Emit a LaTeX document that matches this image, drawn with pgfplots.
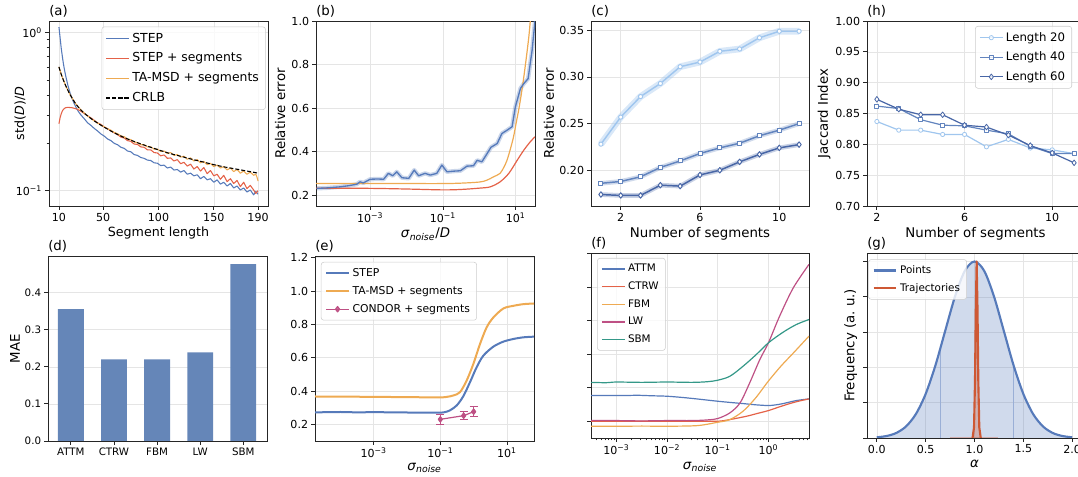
\documentclass[border=0pt]{standalone}
\usepackage{fontspec}
\setmainfont{DejaVu Sans}
\usepackage{pgfplots}
\pgfplotsset{compat=1.18}
\definecolor{cblue}{RGB}{86,122,186}
\definecolor{cred}{RGB}{228,98,72}
\definecolor{cred2}{RGB}{206,88,52}
\definecolor{corange}{RGB}{238,170,82}
\definecolor{cmag}{RGB}{190,80,132}
\definecolor{cteal}{RGB}{52,152,136}
\definecolor{cbar}{RGB}{101,134,184}
\definecolor{clight}{RGB}{160,198,238}
\definecolor{cmid}{RGB}{98,132,190}
\definecolor{cdark}{RGB}{72,102,166}
\newcommand{\tp}[1]{10\textsuperscript{#1}}
\newcommand{\sn}{\textit{σ}\textsubscript{\textit{noise}}}
\pgfplotsset{
  mpl/.style={
    scale only axis,
    anchor=south west,
    /pgf/number format/assume math mode=true,
    axis line style={black!85, line width=0.6pt},
    tick style={black!85, line width=0.6pt},
    major tick length=3pt, minor tick length=1.8pt,
    tick align=outside, tick pos=left,
    grid=major,
    major grid style={black!10, line width=0.4pt},
    tick label style={font=\fontsize{8.3}{10}\selectfont, inner sep=2pt},
    label style={font=\fontsize{10}{12}\selectfont},
    legend cell align=left,
    legend style={draw=black!20, rounded corners=2pt, fill=white, fill opacity=0.8, text opacity=1, inner xsep=3pt, inner ysep=2.5pt, row sep=2pt},
    every axis plot/.append style={line join=round},
  },
}
\begin{document}
\begin{tikzpicture}
\useasboundingbox (0,0) rectangle (808.5pt,357.75pt);
%---------------- (a)
\begin{axis}[mpl, name=pa, at={(36.75pt,203.25pt)}, width=164.25pt, height=138.75pt,
  xmin=1, xmax=199, ymode=log, ymin=0.08, ymax=1.18,
  xtick={10,50,100,150,190}, ytick={0.1,1}, yticklabels={\tp{−1},\tp{0}},
  xlabel={Segment length}, ylabel={std(\textit{D})/\textit{D}},
  label style={font=\fontsize{9.5}{11}\selectfont},
  ylabel style={at={(axis description cs:-0.132,0.5)}, anchor=center},
  xlabel style={at={(axis description cs:0.5,-0.148)}, anchor=center},
  legend style={at={(0.99,0.97)}, anchor=north east, font=\fontsize{9.3}{11}\selectfont, row sep=2.5pt},
]
\addplot[cblue, line width=0.8pt] coordinates {
(10,1.08)(11,0.93)(12,0.80)(13,0.71)(14,0.635)(15,0.58)(16,0.535)(18,0.465)(20,0.415)(22,0.38)(24,0.352)(26,0.33)(28,0.313)(30,0.3)
(33,0.284)(36,0.268)(39,0.258)(42,0.247)(45,0.238)(48,0.228)(51,0.221)(54,0.212)(57,0.207)(60,0.199)(63,0.195)(66,0.188)(69,0.185)
(72,0.178)(75,0.176)(78,0.169)(81,0.167)(84,0.162)(87,0.160)(90,0.156)(93,0.155)(96,0.150)(99,0.149)(102,0.144)(105,0.145)(108,0.139)
(111,0.141)(114,0.135)(117,0.136)(120,0.131)(123,0.134)(126,0.127)(129,0.129)(132,0.124)(135,0.126)(138,0.119)(141,0.123)(144,0.117)
(147,0.119)(150,0.113)(153,0.117)(156,0.110)(159,0.113)(162,0.107)(165,0.111)(168,0.104)(171,0.107)(174,0.101)(177,0.104)(180,0.098)
(183,0.101)(186,0.094)(188,0.099)(190,0.095)};
\addlegendentry{STEP}
\addplot[cred, line width=0.8pt] coordinates {
(10,0.265)(11,0.288)(12,0.305)(13,0.318)(14,0.326)(15,0.331)(16,0.334)(18,0.336)(20,0.335)(22,0.334)(24,0.331)(26,0.328)(28,0.323)(30,0.317)
(33,0.307)(36,0.297)(39,0.288)(42,0.278)(45,0.268)(48,0.262)(51,0.252)(54,0.246)(57,0.238)(60,0.232)(63,0.226)(66,0.218)(69,0.215)
(72,0.207)(75,0.205)(78,0.197)(81,0.196)(84,0.189)(87,0.188)(90,0.181)(93,0.181)(96,0.174)(99,0.173)(102,0.166)(105,0.168)(108,0.160)
(111,0.161)(114,0.154)(117,0.157)(120,0.148)(123,0.151)(126,0.143)(129,0.147)(132,0.137)(135,0.142)(138,0.133)(141,0.140)(144,0.128)
(147,0.134)(150,0.124)(153,0.127)(156,0.118)(159,0.125)(162,0.114)(165,0.119)(168,0.111)(171,0.116)(174,0.106)(177,0.113)(180,0.103)
(183,0.108)(186,0.101)(188,0.096)(190,0.100)};
\addlegendentry{STEP + segments}
\addplot[corange, line width=0.8pt] coordinates {
(10,0.605)(12,0.545)(14,0.50)(16,0.462)(18,0.432)(20,0.405)(25,0.355)(30,0.323)(35,0.300)(40,0.282)(45,0.267)(50,0.255)(54,0.246)
(57,0.241)(60,0.233)(63,0.229)(66,0.222)(69,0.219)(72,0.212)(75,0.210)(78,0.203)(81,0.201)(84,0.195)(87,0.195)(90,0.189)(93,0.189)
(96,0.183)(99,0.183)(102,0.177)(105,0.178)(108,0.172)(111,0.174)(114,0.167)(117,0.169)(120,0.163)(123,0.165)(126,0.158)(129,0.161)
(132,0.154)(135,0.157)(138,0.150)(141,0.153)(144,0.146)(147,0.149)(150,0.142)(153,0.145)(156,0.139)(159,0.142)(162,0.135)(165,0.139)
(168,0.132)(171,0.136)(174,0.129)(177,0.133)(180,0.127)(183,0.131)(186,0.125)(188,0.127)(189,0.122)(190,0.115)};
\addlegendentry{TA-MSD + segments}
\addplot[black, line width=0.8pt, dash pattern=on 3pt off 1.5pt, smooth] coordinates {
(10,0.605)(12,0.545)(14,0.50)(16,0.462)(18,0.432)(20,0.405)(25,0.355)(30,0.322)(35,0.30)(40,0.282)(45,0.267)(50,0.254)(60,0.232)
(70,0.215)(80,0.202)(90,0.191)(100,0.181)(110,0.172)(120,0.165)(130,0.158)(140,0.152)(150,0.146)(160,0.141)(170,0.137)(180,0.133)(190,0.129)};
\addlegendentry{CRLB}
\end{axis}
\node[anchor=base west, inner sep=0pt, font=\fontsize{10}{12}\selectfont] at ([yshift=4pt]pa.north west) {(a)};
%---------------- (b)
\begin{axis}[mpl, name=pb, at={(237pt,203.25pt)}, width=164.25pt, height=138.75pt,
  xmin=-4.49, xmax=1.53, ymin=0.15, ymax=1.0,
  xtick={-3,-1,1}, xticklabels={\tp{−3},\tp{−1},\tp{1}},
  ytick={0.2,0.4,0.6,0.8,1.0},
  yticklabel style={/pgf/number format/.cd,fixed,fixed zerofill,precision=1},
  xlabel={\sn/\textit{D}}, ylabel={Relative error},
  ylabel style={at={(axis description cs:-0.164,0.5)}, anchor=center},
  xlabel style={at={(axis description cs:0.5,-0.152)}, anchor=center},
]
\addplot[cblue, line width=3.2pt, opacity=0.3] coordinates {
(-4.47,0.231)(-4.2,0.233)(-3.83,0.238)(-3.6,0.243)(-3.37,0.250)(-3.28,0.261)(-3.19,0.256)(-3.0,0.273)(-2.8,0.274)(-2.63,0.273)
(-2.5,0.30)(-2.38,0.289)(-2.27,0.307)(-2.13,0.28)(-1.94,0.277)(-1.79,0.315)(-1.67,0.289)(-1.49,0.30)(-1.35,0.292)(-1.17,0.30)
(-1.03,0.338)(-0.89,0.307)(-0.71,0.31)(-0.52,0.312)(-0.34,0.333)(-0.16,0.335)(-0.06,0.36)(0.07,0.353)(0.21,0.39)(0.32,0.42)
(0.49,0.437)(0.62,0.483)(0.76,0.498)(0.9,0.514)(0.99,0.605)(1.13,0.69)(1.22,0.712)(1.34,0.735)(1.45,0.865)(1.53,1.0)};
\addplot[corange, line width=0.9pt, smooth] coordinates {
(-4.49,0.253)(-3,0.253)(-2,0.253)(-1,0.253)(-0.5,0.255)(0,0.26)(0.2,0.268)(0.39,0.284)(0.57,0.30)(0.68,0.33)(0.76,0.36)(0.85,0.41)
(0.94,0.468)(1.01,0.53)(1.08,0.59)(1.15,0.66)(1.22,0.74)(1.29,0.83)(1.36,0.927)(1.40,1.0)(1.44,1.08)};
\addplot[cred, line width=0.9pt, smooth] coordinates {
(-4.49,0.232)(-3,0.231)(-2,0.228)(-1,0.224)(-0.5,0.226)(0,0.232)(0.3,0.238)(0.57,0.261)(0.81,0.30)(1.04,0.36)(1.22,0.406)(1.4,0.445)(1.53,0.468)};
\addplot[cblue, line width=1pt] coordinates {
(-4.47,0.231)(-4.2,0.233)(-3.83,0.238)(-3.6,0.243)(-3.37,0.250)(-3.28,0.261)(-3.19,0.256)(-3.0,0.273)(-2.8,0.274)(-2.63,0.273)
(-2.5,0.30)(-2.38,0.289)(-2.27,0.307)(-2.13,0.28)(-1.94,0.277)(-1.79,0.315)(-1.67,0.289)(-1.49,0.30)(-1.35,0.292)(-1.17,0.30)
(-1.03,0.338)(-0.89,0.307)(-0.71,0.31)(-0.52,0.312)(-0.34,0.333)(-0.16,0.335)(-0.06,0.36)(0.07,0.353)(0.21,0.39)(0.32,0.42)
(0.49,0.437)(0.62,0.483)(0.76,0.498)(0.9,0.514)(0.99,0.605)(1.13,0.69)(1.22,0.712)(1.34,0.735)(1.45,0.865)(1.53,1.0)};
\end{axis}
\node[anchor=base west, inner sep=0pt, font=\fontsize{10}{12}\selectfont] at ([yshift=4pt]pb.north west) {(b)};
%---------------- (c)
\begin{axis}[mpl, name=pc, at={(443.25pt,203.25pt)}, width=163.5pt, height=138.75pt,
  xmin=0.5, xmax=11.5, ymin=0.1617, ymax=0.36,
  xtick={2,6,10}, ytick={0.20,0.25,0.30,0.35},
  yticklabel style={/pgf/number format/.cd,fixed,fixed zerofill,precision=2},
  xlabel={Number of segments}, ylabel={Relative error},
  ylabel style={at={(axis description cs:-0.193,0.5)}, anchor=center},
  xlabel style={at={(axis description cs:0.5,-0.148)}, anchor=center},
]
\addplot[clight, line width=5pt, opacity=0.4] coordinates {
(1,0.228)(2,0.257)(3,0.279)(4,0.293)(5,0.311)(6,0.316)(7,0.3275)(8,0.330)(9,0.342)(10,0.349)(11,0.349)};
\addplot[cmid, line width=3.5pt, opacity=0.3] coordinates {
(1,0.186)(2,0.188)(3,0.193)(4,0.203)(5,0.210)(6,0.218)(7,0.224)(8,0.229)(9,0.237)(10,0.243)(11,0.250)};
\addplot[cdark, line width=3.5pt, opacity=0.3] coordinates {
(1,0.174)(2,0.173)(3,0.173)(4,0.184)(5,0.183)(6,0.195)(7,0.200)(8,0.209)(9,0.217)(10,0.224)(11,0.2275)};
\addplot[clight, line width=1.1pt, mark=*, mark size=1.6pt, mark options={fill=white, draw=clight, line width=0.7pt}] coordinates {
(1,0.228)(2,0.257)(3,0.279)(4,0.293)(5,0.311)(6,0.316)(7,0.3275)(8,0.330)(9,0.342)(10,0.349)(11,0.349)};
\addplot[cmid, line width=1.1pt, mark=square*, mark size=1.5pt, mark options={fill=white, draw=cmid, line width=0.7pt}] coordinates {
(1,0.186)(2,0.188)(3,0.193)(4,0.203)(5,0.210)(6,0.218)(7,0.224)(8,0.229)(9,0.237)(10,0.243)(11,0.250)};
\addplot[cdark, line width=1.1pt, mark=diamond*, mark size=2.1pt, mark options={fill=white, draw=cdark, line width=0.7pt}] coordinates {
(1,0.174)(2,0.173)(3,0.173)(4,0.184)(5,0.183)(6,0.195)(7,0.200)(8,0.209)(9,0.217)(10,0.224)(11,0.2275)};
\end{axis}
\node[anchor=base west, inner sep=0pt, font=\fontsize{10}{12}\selectfont] at ([yshift=4pt]pc.north west) {(c)};
%---------------- (h)
\begin{axis}[mpl, name=ph, at={(650.25pt,203.25pt)}, width=162.75pt, height=138.75pt,
  xmin=1.55, xmax=11.45, ymin=0.70, ymax=1.00,
  xtick={2,6,10}, ytick={0.70,0.75,0.80,0.85,0.90,0.95,1.00},
  yticklabel style={/pgf/number format/.cd,fixed,fixed zerofill,precision=2},
  xlabel={Number of segments}, ylabel={Jaccard Index},
  ylabel style={at={(axis description cs:-0.198,0.5)}, anchor=center},
  xlabel style={at={(axis description cs:0.5,-0.148)}, anchor=center},
  legend style={at={(0.498,0.973)}, anchor=north west, font=\fontsize{8.8}{10.5}\selectfont, row sep=2.5pt},
]
\addplot[clight, line width=0.9pt, mark=*, mark size=1.6pt, mark options={fill=white, draw=clight, line width=0.6pt}] coordinates {
(2,0.837)(3,0.823)(4,0.823)(5,0.816)(6,0.816)(7,0.796)(8,0.808)(9,0.794)(10,0.791)(11,0.785)};
\addlegendentry{Length 20}
\addplot[cmid, line width=0.9pt, mark=square*, mark size=1.5pt, mark options={fill=white, draw=cmid, line width=0.6pt}] coordinates {
(2,0.862)(3,0.858)(4,0.840)(5,0.831)(6,0.830)(7,0.823)(8,0.817)(9,0.797)(10,0.785)(11,0.785)};
\addlegendentry{Length 40}
\addplot[cdark, line width=0.9pt, mark=diamond*, mark size=2.1pt, mark options={fill=white, draw=cdark, line width=0.6pt}] coordinates {
(2,0.873)(3,0.857)(4,0.848)(5,0.848)(6,0.831)(7,0.828)(8,0.815)(9,0.798)(10,0.786)(11,0.770)};
\addlegendentry{Length 60}
\end{axis}
\node[anchor=base west, inner sep=0pt, font=\fontsize{10}{12}\selectfont] at ([yshift=4pt]ph.north west) {(h)};
%---------------- (d)
\begin{axis}[mpl, name=pd, at={(36pt,27pt)}, width=164.25pt, height=138.75pt,
  ybar, bar width=0.6, xmin=-0.53, xmax=4.55, ymin=0, ymax=0.4985,
  xtick={0,1,2,3,4}, xticklabels={ATTM,CTRW,FBM,LW,SBM},
  ytick={0,0.1,0.2,0.3,0.4},
  yticklabel style={/pgf/number format/.cd,fixed,fixed zerofill,precision=1},
  xmajorgrids=false, ymajorgrids=true, ylabel={MAE},
  ylabel style={at={(axis description cs:-0.151,0.5)}, anchor=center},
  tick label style={font=\fontsize{7.7}{9}\selectfont},
]
\addplot[fill=cbar, draw=none] coordinates {(0,0.355)(1,0.220)(2,0.220)(3,0.239)(4,0.4765)};
\end{axis}
\node[anchor=base west, inner sep=0pt, font=\fontsize{10}{12}\selectfont] at ([yshift=4pt]pd.north west) {(d)};
%---------------- (e)
\begin{axis}[mpl, name=pe, at={(236.25pt,27pt)}, width=164.25pt, height=138.75pt,
  xmin=-4.76, xmax=1.81, ymin=0.1, ymax=1.21,
  xtick={-3,-1,1}, xticklabels={\tp{−3},\tp{−1},\tp{1}},
  ytick={0.2,0.4,0.6,0.8,1.0,1.2},
  yticklabel style={/pgf/number format/.cd,fixed,fixed zerofill,precision=1},
  xlabel={\sn},
  xlabel style={at={(axis description cs:0.5,-0.145)}, anchor=center},
  legend style={at={(0.027,0.968)}, anchor=north west, font=\fontsize{8.1}{9.7}\selectfont},
]
\addplot[cblue, line width=1.5pt, smooth] coordinates {
(-4.76,0.272)(-4.3,0.273)(-4,0.274)(-3.5,0.272)(-3,0.273)(-2.5,0.272)(-2,0.271)(-1.5,0.270)(-1,0.27)(-0.85,0.274)(-0.71,0.284)
(-0.51,0.313)(-0.31,0.369)(-0.11,0.453)(0.09,0.543)(0.29,0.612)(0.59,0.666)(0.89,0.696)(1.19,0.712)(1.49,0.722)(1.81,0.726)};
\addlegendentry{STEP}
\addplot[corange, line width=1.5pt, smooth] coordinates {
(-4.76,0.367)(-4,0.366)(-3,0.365)(-2,0.363)(-1,0.362)(-0.8,0.365)(-0.61,0.373)(-0.41,0.393)(-0.21,0.463)(-0.01,0.562)(0.19,0.682)
(0.39,0.782)(0.59,0.841)(0.89,0.895)(1.19,0.911)(1.49,0.921)(1.81,0.925)};
\addlegendentry{TA-MSD + segments}
\addplot[cmag, line width=0.9pt, mark=diamond*, mark size=2pt,
  error bars/.cd, y dir=both, y explicit, error mark options={rotate=90, cmag, mark size=3pt, line width=0.8pt},
  error bar style={cmag, line width=0.8pt}]
  coordinates {(-1,0.23) +- (0,0.03) (-0.3,0.252) +- (0,0.025) (0,0.276) +- (0,0.03)};
\addlegendentry{CONDOR + segments}
\end{axis}
\node[anchor=base west, inner sep=0pt, font=\fontsize{10}{12}\selectfont] at ([yshift=4pt]pe.north west) {(e)};
%---------------- (f)
\begin{axis}[mpl, name=pf, at={(443.25pt,29.25pt)}, width=163.5pt, height=138.75pt,
  xmin=-3.5, xmax=0.8, ymin=-0.5, ymax=5.02,
  xtick={-3,-2,-1,0}, xticklabels={\tp{−3},\tp{−2},\tp{−1},\tp{0}},
  minor xtick={-3.398,-3.301,-3.222,-3.155,-3.097,-3.046,-2.699,-2.523,-2.398,-2.301,-2.222,-2.155,-2.097,-2.046,
    -1.699,-1.523,-1.398,-1.301,-1.222,-1.155,-1.097,-1.046,-0.699,-0.523,-0.398,-0.301,-0.222,-0.155,-0.097,-0.046,
    0.301,0.477,0.602,0.699,0.778},
  ytick={0,1,2,3,4,5}, yticklabels={},
  xlabel={\sn},
  xlabel style={at={(axis description cs:0.5,-0.155)}, anchor=center},
  legend style={at={(0.028,0.973)}, anchor=north west, font=\fontsize{7.8}{9.4}\selectfont},
]
\addplot[cblue, line width=0.9pt, smooth] coordinates {
(-3.5,0.766)(-3.2,0.77)(-3,0.77)(-2.8,0.766)(-2.6,0.775)(-2.3,0.76)(-2,0.746)(-1.7,0.71)(-1.42,0.667)(-1.2,0.63)(-1,0.597)
(-0.75,0.56)(-0.5,0.527)(-0.25,0.49)(0,0.468)(0.15,0.49)(0.29,0.527)(0.55,0.617)(0.8,0.667)};
\addlegendentry{ATTM}
\addplot[cred, line width=0.9pt, smooth] coordinates {
(-3.5,0.0)(-3,0.0)(-2,0.0)(-1.5,0.0)(-1,0.0)(-0.76,0.05)(-0.43,0.15)(-0.2,0.24)(0,0.318)(0.2,0.42)(0.42,0.527)(0.6,0.6)(0.8,0.667)};
\addlegendentry{CTRW}
\addplot[corange, line width=0.9pt, smooth] coordinates {
(-3.5,-0.149)(-3,-0.15)(-2.5,-0.145)(-2,-0.149)(-1.4,-0.13)(-1,-0.03)(-0.76,0.05)(-0.5,0.3)(-0.25,0.7)(0,1.2)(0.25,1.65)(0.5,2.05)(0.8,2.54)};
\addlegendentry{FBM}
\addplot[cmag, line width=0.9pt, smooth] coordinates {
(-3.5,0.02)(-3,0.02)(-2.5,0.01)(-2,0.02)(-1.5,0.02)(-1.2,0.04)(-1,0.08)(-0.76,0.25)(-0.56,0.547)(-0.37,1.144)(-0.17,1.84)(0,2.34)
(0.22,3.134)(0.49,3.98)(0.8,4.68)};
\addlegendentry{LW}
\addplot[cteal, line width=0.9pt, smooth] coordinates {
(-3.5,1.16)(-3.2,1.15)(-3,1.17)(-2.5,1.16)(-2,1.17)(-1.5,1.16)(-1.2,1.18)(-1,1.224)(-0.76,1.343)(-0.5,1.642)(-0.24,1.99)(0,2.34)
(0.29,2.657)(0.55,2.886)(0.8,3.035)};
\addlegendentry{SBM}
\end{axis}
\node[anchor=base west, inner sep=0pt, font=\fontsize{10}{12}\selectfont] at ([yshift=4pt]pf.north west) {(f)};
%---------------- (g)
\begin{axis}[mpl, name=pg, at={(650.25pt,29.25pt)}, width=161.25pt, height=138.75pt,
  xmin=-0.1, xmax=2.1, ymin=0, ymax=5.24,
  xtick={0,0.5,1,1.5,2},
  xticklabel style={/pgf/number format/.cd,fixed,fixed zerofill,precision=1},
  ytick={0,1,2,3,4,5}, yticklabels={},
  xlabel={\textit{α}}, ylabel={Frequency (a.\ u.)},
  ylabel style={at={(axis description cs:-0.076,0.5)}, anchor=center},
  xlabel style={at={(axis description cs:0.5,-0.14)}, anchor=center},
  legend style={at={(0.006,0.966)}, anchor=north west, font=\fontsize{7.8}{9.4}\selectfont},
]
\addplot[draw=none, fill=cblue, fill opacity=0.28, forget plot] coordinates {
(0.0,0.019)(0.1,0.056)(0.2,0.143)(0.3,0.329)(0.4,0.677)(0.5,1.247)(0.6,2.056)(0.7,3.033)(0.8,4.004)(0.9,4.73)(1.0,5.0)
(1.1,4.73)(1.2,4.004)(1.3,3.033)(1.4,2.056)(1.5,1.247)(1.6,0.677)(1.7,0.329)(1.8,0.143)(1.9,0.056)(2.0,0.019)} \closedcycle;
\addplot[cblue!60, line width=0.4pt, forget plot] coordinates {(0.65,0) (0.65,2.53)};
\addplot[cblue!60, line width=0.4pt, forget plot] coordinates {(1.40,0) (1.40,2.06)};
\addplot[cblue, line width=1.6pt, smooth] coordinates {
(0.0,0.019)(0.1,0.056)(0.2,0.143)(0.3,0.329)(0.4,0.677)(0.5,1.247)(0.6,2.056)(0.7,3.033)(0.8,4.004)(0.9,4.73)(1.0,5.0)
(1.1,4.73)(1.2,4.004)(1.3,3.033)(1.4,2.056)(1.5,1.247)(1.6,0.677)(1.7,0.329)(1.8,0.143)(1.9,0.056)(2.0,0.019)};
\addlegendentry{Points}
\addplot[cred2, line width=1.6pt, fill=cred2, fill opacity=0.3] coordinates {
(0.98,0)(0.995,0.3)(1.005,1.6)(1.013,3.6)(1.022,5.0)(1.031,3.6)(1.039,1.6)(1.049,0.3)(1.064,0)};
\addlegendentry{Trajectories}
\addplot[cred2, line width=1pt, opacity=0.35, forget plot] coordinates {(0.745,0.02)(0.98,0.02)(1.064,0.02)(1.24,0.02)};
\end{axis}
\node[anchor=base west, inner sep=0pt, font=\fontsize{10}{12}\selectfont] at ([yshift=4pt]pg.north west) {(g)};
\end{tikzpicture}
\end{document}
